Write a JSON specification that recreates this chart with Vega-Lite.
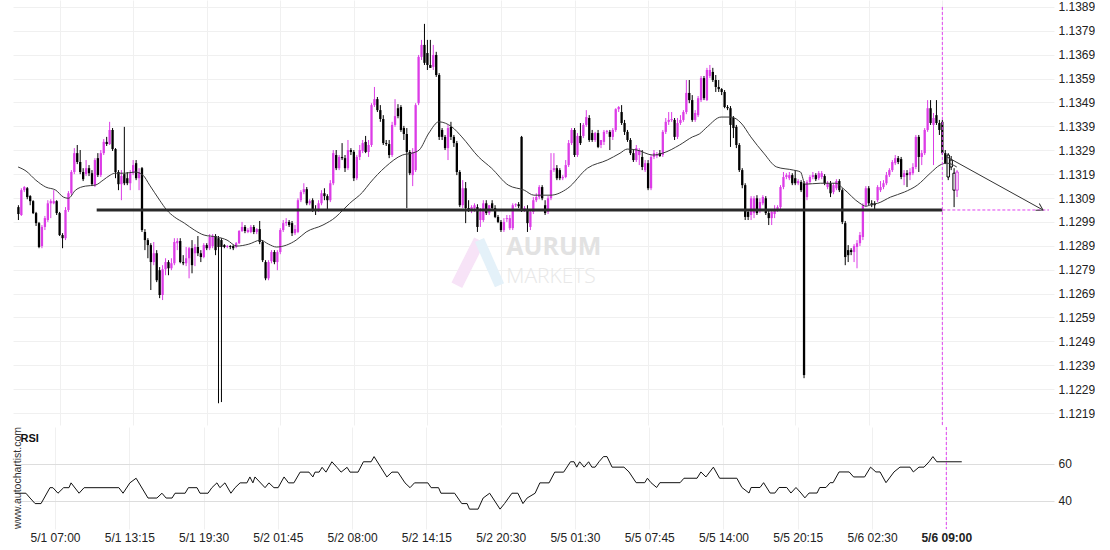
{
  "$schema": "https://vega.github.io/schema/vega-lite/v6.json",
  "background": "#ffffff",
  "padding": {"left": 12, "top": 0, "right": 0, "bottom": 0},
  "spacing": 0,
  "config": {
    "view": {"stroke": null},
    "font": "Liberation Sans",
    "axis": {"labelFont": "Liberation Sans", "labelFontSize": 12, "labelColor": "#222222", "ticks": false, "domain": false, "labelOverlap": false},
    "axisY": {"labelOverlap": false}
  },
  "datasets": {
    "candles": [
      {"i":-14,"o":1.13052,"h":1.1306,"l":1.12998,"c":1.13023},
      {"i":-13,"o":1.13019,"h":1.13131,"l":1.13015,"c":1.13123},
      {"i":-12,"o":1.13123,"h":1.1314,"l":1.13115,"c":1.13136},
      {"i":-11,"o":1.13131,"h":1.13136,"l":1.13085,"c":1.13094},
      {"i":-10,"o":1.13098,"h":1.13102,"l":1.1306,"c":1.13077},
      {"i":-9,"o":1.13077,"h":1.13081,"l":1.13023,"c":1.13027},
      {"i":-8,"o":1.13027,"h":1.13032,"l":1.12973,"c":1.12985},
      {"i":-7,"o":1.12985,"h":1.1299,"l":1.1288,"c":1.12885},
      {"i":-6,"o":1.12889,"h":1.12977,"l":1.1288,"c":1.12969},
      {"i":-5,"o":1.12969,"h":1.13015,"l":1.12956,"c":1.13006},
      {"i":-4,"o":1.12998,"h":1.13081,"l":1.1299,"c":1.13068},
      {"i":-3,"o":1.13068,"h":1.13085,"l":1.13006,"c":1.13077},
      {"i":-2,"o":1.13068,"h":1.13123,"l":1.13064,"c":1.13077},
      {"i":-1,"o":1.13077,"h":1.13081,"l":1.13019,"c":1.13027},
      {"i":0,"o":1.13027,"h":1.13032,"l":1.12931,"c":1.12935},
      {"i":1,"o":1.12935,"h":1.12943,"l":1.1288,"c":1.12922},
      {"i":2,"o":1.12922,"h":1.13052,"l":1.12914,"c":1.1304},
      {"i":3,"o":1.1304,"h":1.13119,"l":1.13032,"c":1.1311},
      {"i":4,"o":1.1311,"h":1.13207,"l":1.13102,"c":1.13199},
      {"i":5,"o":1.13199,"h":1.13299,"l":1.1319,"c":1.13278},
      {"i":6,"o":1.13278,"h":1.13312,"l":1.13232,"c":1.13241},
      {"i":7,"o":1.13241,"h":1.13291,"l":1.1319,"c":1.13199},
      {"i":8,"o":1.13199,"h":1.13215,"l":1.13161,"c":1.13169},
      {"i":9,"o":1.1319,"h":1.13249,"l":1.13182,"c":1.13215},
      {"i":10,"o":1.13215,"h":1.13228,"l":1.13182,"c":1.13194},
      {"i":11,"o":1.13194,"h":1.13207,"l":1.1314,"c":1.13148},
      {"i":12,"o":1.13144,"h":1.13257,"l":1.13136,"c":1.13249},
      {"i":13,"o":1.13257,"h":1.13278,"l":1.13178,"c":1.13186},
      {"i":14,"o":1.13186,"h":1.13291,"l":1.13178,"c":1.13278},
      {"i":15,"o":1.13278,"h":1.13337,"l":1.1327,"c":1.13325},
      {"i":16,"o":1.13325,"h":1.13346,"l":1.13308,"c":1.13316},
      {"i":17,"o":1.13316,"h":1.13409,"l":1.13312,"c":1.13375},
      {"i":18,"o":1.13375,"h":1.13383,"l":1.13287,"c":1.13295},
      {"i":19,"o":1.13295,"h":1.13299,"l":1.13173,"c":1.13199},
      {"i":20,"o":1.13199,"h":1.13207,"l":1.13123,"c":1.13148},
      {"i":21,"o":1.13148,"h":1.13207,"l":1.13081,"c":1.13182},
      {"i":22,"o":1.1319,"h":1.13388,"l":1.13144,"c":1.13152},
      {"i":23,"o":1.13173,"h":1.13199,"l":1.13144,"c":1.13152},
      {"i":24,"o":1.13152,"h":1.13207,"l":1.13123,"c":1.13194},
      {"i":25,"o":1.13194,"h":1.13249,"l":1.13186,"c":1.13228},
      {"i":26,"o":1.13236,"h":1.13249,"l":1.13165,"c":1.13173},
      {"i":27,"o":1.13173,"h":1.13215,"l":1.13123,"c":1.13199},
      {"i":28,"o":1.13215,"h":1.1322,"l":1.12948,"c":1.12956},
      {"i":29,"o":1.12948,"h":1.1296,"l":1.12872,"c":1.12914},
      {"i":30,"o":1.12914,"h":1.12922,"l":1.12838,"c":1.12893},
      {"i":31,"o":1.12893,"h":1.12901,"l":1.12705,"c":1.12822},
      {"i":32,"o":1.12822,"h":1.12906,"l":1.12809,"c":1.12859},
      {"i":33,"o":1.12859,"h":1.12872,"l":1.12738,"c":1.12746},
      {"i":34,"o":1.12788,"h":1.12801,"l":1.12671,"c":1.12684},
      {"i":35,"o":1.12684,"h":1.12809,"l":1.12663,"c":1.12792},
      {"i":36,"o":1.12792,"h":1.12838,"l":1.12767,"c":1.12822},
      {"i":37,"o":1.12822,"h":1.1283,"l":1.12767,"c":1.12796},
      {"i":38,"o":1.12796,"h":1.12838,"l":1.12788,"c":1.12817},
      {"i":39,"o":1.12817,"h":1.12922,"l":1.12809,"c":1.12906},
      {"i":40,"o":1.12901,"h":1.12922,"l":1.12872,"c":1.1291},
      {"i":41,"o":1.1291,"h":1.12922,"l":1.12817,"c":1.12822},
      {"i":42,"o":1.12822,"h":1.12851,"l":1.12809,"c":1.12817},
      {"i":43,"o":1.12817,"h":1.12885,"l":1.12805,"c":1.12838},
      {"i":44,"o":1.12838,"h":1.12885,"l":1.12754,"c":1.1288},
      {"i":45,"o":1.1288,"h":1.12914,"l":1.12775,"c":1.12809},
      {"i":46,"o":1.12859,"h":1.12897,"l":1.12805,"c":1.12885},
      {"i":47,"o":1.12885,"h":1.12931,"l":1.12847,"c":1.12859},
      {"i":48,"o":1.12859,"h":1.12872,"l":1.12822,"c":1.12843},
      {"i":49,"o":1.12843,"h":1.12901,"l":1.12838,"c":1.12893},
      {"i":50,"o":1.12893,"h":1.12901,"l":1.12872,"c":1.1288},
      {"i":51,"o":1.1288,"h":1.12939,"l":1.12872,"c":1.12927},
      {"i":52,"o":1.12889,"h":1.12939,"l":1.1288,"c":1.12931},
      {"i":53,"o":1.12931,"h":1.12939,"l":1.12851,"c":1.12872},
      {"i":54,"o":1.12922,"h":1.12931,"l":1.12231,"c":1.12885},
      {"i":55,"o":1.12914,"h":1.12922,"l":1.12236,"c":1.12885},
      {"i":56,"o":1.12893,"h":1.12897,"l":1.1288,"c":1.12885},
      {"i":57,"o":1.12885,"h":1.12893,"l":1.1288,"c":1.12889},
      {"i":58,"o":1.12889,"h":1.12893,"l":1.12876,"c":1.12885},
      {"i":59,"o":1.12889,"h":1.12893,"l":1.12872,"c":1.1288},
      {"i":60,"o":1.12885,"h":1.12906,"l":1.1288,"c":1.12901},
      {"i":61,"o":1.12901,"h":1.12956,"l":1.12897,"c":1.12952},
      {"i":62,"o":1.12952,"h":1.1299,"l":1.12948,"c":1.12969},
      {"i":63,"o":1.12969,"h":1.12977,"l":1.12943,"c":1.12952},
      {"i":64,"o":1.12948,"h":1.12964,"l":1.12943,"c":1.12956},
      {"i":65,"o":1.12948,"h":1.12977,"l":1.12943,"c":1.12969},
      {"i":66,"o":1.12969,"h":1.12977,"l":1.12939,"c":1.12948},
      {"i":67,"o":1.12948,"h":1.12964,"l":1.12939,"c":1.1296},
      {"i":68,"o":1.1296,"h":1.12994,"l":1.12897,"c":1.12906},
      {"i":69,"o":1.12906,"h":1.12914,"l":1.12822,"c":1.1283},
      {"i":70,"o":1.12822,"h":1.1283,"l":1.12746,"c":1.12754},
      {"i":71,"o":1.12754,"h":1.1283,"l":1.12746,"c":1.12822},
      {"i":72,"o":1.12826,"h":1.12872,"l":1.12817,"c":1.12864},
      {"i":73,"o":1.12864,"h":1.12872,"l":1.12813,"c":1.12822},
      {"i":74,"o":1.12822,"h":1.12872,"l":1.12788,"c":1.12864},
      {"i":75,"o":1.12864,"h":1.12964,"l":1.12855,"c":1.12956},
      {"i":76,"o":1.12956,"h":1.12998,"l":1.12948,"c":1.12985},
      {"i":77,"o":1.12985,"h":1.13006,"l":1.12973,"c":1.1299},
      {"i":78,"o":1.1299,"h":1.12998,"l":1.12969,"c":1.12977},
      {"i":79,"o":1.12985,"h":1.12994,"l":1.12931,"c":1.12943},
      {"i":80,"o":1.12943,"h":1.12977,"l":1.12935,"c":1.1296},
      {"i":81,"o":1.12948,"h":1.13089,"l":1.12943,"c":1.13081},
      {"i":82,"o":1.13081,"h":1.13123,"l":1.13073,"c":1.13115},
      {"i":83,"o":1.13115,"h":1.13152,"l":1.13106,"c":1.13127},
      {"i":84,"o":1.13127,"h":1.13136,"l":1.1306,"c":1.13068},
      {"i":85,"o":1.13068,"h":1.13085,"l":1.1306,"c":1.13077},
      {"i":86,"o":1.13081,"h":1.13089,"l":1.13032,"c":1.1304},
      {"i":87,"o":1.1304,"h":1.1306,"l":1.13019,"c":1.13036},
      {"i":88,"o":1.1304,"h":1.13081,"l":1.13032,"c":1.13068},
      {"i":89,"o":1.13068,"h":1.13123,"l":1.1306,"c":1.1311},
      {"i":90,"o":1.1311,"h":1.13131,"l":1.13081,"c":1.13098},
      {"i":91,"o":1.13098,"h":1.13106,"l":1.1304,"c":1.13081},
      {"i":92,"o":1.13081,"h":1.13165,"l":1.13073,"c":1.13152},
      {"i":93,"o":1.13152,"h":1.13291,"l":1.13144,"c":1.13278},
      {"i":94,"o":1.1327,"h":1.13291,"l":1.13207,"c":1.13215},
      {"i":95,"o":1.13215,"h":1.1327,"l":1.13207,"c":1.13262},
      {"i":96,"o":1.13262,"h":1.1332,"l":1.13249,"c":1.13257},
      {"i":97,"o":1.13257,"h":1.1327,"l":1.13199,"c":1.13215},
      {"i":98,"o":1.13215,"h":1.13333,"l":1.13207,"c":1.13291},
      {"i":99,"o":1.13291,"h":1.13299,"l":1.1327,"c":1.13283},
      {"i":100,"o":1.13283,"h":1.13291,"l":1.13161,"c":1.13173},
      {"i":101,"o":1.13173,"h":1.1327,"l":1.13165,"c":1.13262},
      {"i":102,"o":1.13262,"h":1.13312,"l":1.13249,"c":1.13291},
      {"i":103,"o":1.13287,"h":1.13333,"l":1.13278,"c":1.1332},
      {"i":104,"o":1.13325,"h":1.1335,"l":1.13278,"c":1.13283},
      {"i":105,"o":1.13283,"h":1.13333,"l":1.13262,"c":1.13312},
      {"i":106,"o":1.13312,"h":1.13487,"l":1.13304,"c":1.13479},
      {"i":107,"o":1.13479,"h":1.13555,"l":1.13471,"c":1.13504},
      {"i":108,"o":1.13504,"h":1.13513,"l":1.1345,"c":1.13458},
      {"i":109,"o":1.13458,"h":1.13479,"l":1.13409,"c":1.13421},
      {"i":110,"o":1.13421,"h":1.13437,"l":1.13312,"c":1.1332},
      {"i":111,"o":1.1332,"h":1.13333,"l":1.13308,"c":1.13316},
      {"i":112,"o":1.13316,"h":1.13333,"l":1.13257,"c":1.1327},
      {"i":113,"o":1.1327,"h":1.13409,"l":1.13262,"c":1.13396},
      {"i":114,"o":1.13396,"h":1.13504,"l":1.13388,"c":1.13433},
      {"i":115,"o":1.13466,"h":1.13483,"l":1.13424,"c":1.13433},
      {"i":116,"o":1.13471,"h":1.13479,"l":1.13367,"c":1.13375},
      {"i":117,"o":1.13383,"h":1.13392,"l":1.13333,"c":1.13358},
      {"i":118,"o":1.13358,"h":1.13383,"l":1.13048,"c":1.13283},
      {"i":119,"o":1.13283,"h":1.13291,"l":1.13186,"c":1.13194},
      {"i":120,"o":1.13186,"h":1.13299,"l":1.1314,"c":1.13283},
      {"i":121,"o":1.13207,"h":1.13487,"l":1.13199,"c":1.13479},
      {"i":122,"o":1.13487,"h":1.13689,"l":1.13479,"c":1.13681},
      {"i":123,"o":1.13681,"h":1.13752,"l":1.13668,"c":1.13731},
      {"i":124,"o":1.13731,"h":1.13819,"l":1.13647,"c":1.13656},
      {"i":125,"o":1.13697,"h":1.13752,"l":1.13626,"c":1.13647},
      {"i":126,"o":1.13647,"h":1.13752,"l":1.13635,"c":1.13635},
      {"i":127,"o":1.13639,"h":1.13731,"l":1.13626,"c":1.13689},
      {"i":128,"o":1.13689,"h":1.13702,"l":1.13597,"c":1.13605},
      {"i":129,"o":1.13605,"h":1.13613,"l":1.13333,"c":1.13346},
      {"i":130,"o":1.13375,"h":1.13383,"l":1.13333,"c":1.13346},
      {"i":131,"o":1.13346,"h":1.13354,"l":1.13291,"c":1.13299},
      {"i":132,"o":1.13299,"h":1.13396,"l":1.13249,"c":1.13383},
      {"i":133,"o":1.13388,"h":1.13409,"l":1.13333,"c":1.13346},
      {"i":134,"o":1.13346,"h":1.13354,"l":1.13304,"c":1.1332},
      {"i":135,"o":1.1332,"h":1.13329,"l":1.13186,"c":1.13199},
      {"i":136,"o":1.13199,"h":1.13207,"l":1.13052,"c":1.1306},
      {"i":137,"o":1.1306,"h":1.13165,"l":1.13048,"c":1.13131},
      {"i":138,"o":1.13131,"h":1.13157,"l":1.12985,"c":1.13048},
      {"i":139,"o":1.13048,"h":1.13081,"l":1.13032,"c":1.1304},
      {"i":140,"o":1.1304,"h":1.1306,"l":1.13027,"c":1.13052},
      {"i":141,"o":1.13048,"h":1.13068,"l":1.13032,"c":1.1306},
      {"i":142,"o":1.13052,"h":1.13064,"l":1.12948,"c":1.12969},
      {"i":143,"o":1.12998,"h":1.13048,"l":1.12969,"c":1.13032},
      {"i":144,"o":1.12998,"h":1.13081,"l":1.1299,"c":1.13068},
      {"i":145,"o":1.13068,"h":1.13081,"l":1.13019,"c":1.13027},
      {"i":146,"o":1.13027,"h":1.1306,"l":1.13019,"c":1.1306},
      {"i":147,"o":1.13068,"h":1.13081,"l":1.1304,"c":1.13048},
      {"i":148,"o":1.13048,"h":1.1306,"l":1.13006,"c":1.13011},
      {"i":149,"o":1.13011,"h":1.13019,"l":1.12985,"c":1.1299},
      {"i":150,"o":1.1299,"h":1.12998,"l":1.12948,"c":1.12956},
      {"i":151,"o":1.12956,"h":1.13006,"l":1.12948,"c":1.1299},
      {"i":152,"o":1.13002,"h":1.13019,"l":1.1299,"c":1.13006},
      {"i":153,"o":1.12964,"h":1.13019,"l":1.12956,"c":1.13006},
      {"i":154,"o":1.12964,"h":1.13068,"l":1.12956,"c":1.1306},
      {"i":155,"o":1.1306,"h":1.13068,"l":1.13052,"c":1.13064},
      {"i":156,"o":1.13064,"h":1.13073,"l":1.13048,"c":1.13056},
      {"i":157,"o":1.13346,"h":1.1335,"l":1.13032,"c":1.13044},
      {"i":158,"o":1.1304,"h":1.13056,"l":1.13032,"c":1.13048},
      {"i":159,"o":1.1304,"h":1.1306,"l":1.12948,"c":1.12985},
      {"i":160,"o":1.12969,"h":1.13044,"l":1.12956,"c":1.13032},
      {"i":161,"o":1.13032,"h":1.13094,"l":1.13023,"c":1.13081},
      {"i":162,"o":1.13081,"h":1.1311,"l":1.13073,"c":1.13094},
      {"i":163,"o":1.13094,"h":1.13144,"l":1.13085,"c":1.13136},
      {"i":164,"o":1.13136,"h":1.13144,"l":1.13081,"c":1.13089},
      {"i":165,"o":1.1306,"h":1.13081,"l":1.13019,"c":1.13027},
      {"i":166,"o":1.13032,"h":1.13098,"l":1.13023,"c":1.13089},
      {"i":167,"o":1.13089,"h":1.13278,"l":1.13081,"c":1.13207},
      {"i":168,"o":1.13207,"h":1.13278,"l":1.13199,"c":1.13215},
      {"i":169,"o":1.13215,"h":1.13228,"l":1.13165,"c":1.13173},
      {"i":170,"o":1.13207,"h":1.13215,"l":1.13165,"c":1.13173},
      {"i":171,"o":1.13173,"h":1.13186,"l":1.13165,"c":1.13178},
      {"i":172,"o":1.13178,"h":1.13249,"l":1.13173,"c":1.13228},
      {"i":173,"o":1.13228,"h":1.13333,"l":1.1322,"c":1.1332},
      {"i":174,"o":1.1332,"h":1.13383,"l":1.13312,"c":1.13375},
      {"i":175,"o":1.13375,"h":1.13383,"l":1.13262,"c":1.1327},
      {"i":176,"o":1.1327,"h":1.13362,"l":1.13262,"c":1.1335},
      {"i":177,"o":1.1335,"h":1.13404,"l":1.13312,"c":1.1332},
      {"i":178,"o":1.1335,"h":1.13404,"l":1.13341,"c":1.13396},
      {"i":179,"o":1.13396,"h":1.13458,"l":1.13388,"c":1.13429},
      {"i":180,"o":1.13425,"h":1.13437,"l":1.13325,"c":1.13333},
      {"i":181,"o":1.13362,"h":1.13375,"l":1.13325,"c":1.13333},
      {"i":182,"o":1.13333,"h":1.13367,"l":1.13325,"c":1.13362},
      {"i":183,"o":1.13362,"h":1.13375,"l":1.13299,"c":1.13304},
      {"i":184,"o":1.13312,"h":1.13333,"l":1.13299,"c":1.13333},
      {"i":185,"o":1.13325,"h":1.13375,"l":1.13312,"c":1.13367},
      {"i":186,"o":1.13367,"h":1.13375,"l":1.13358,"c":1.13371},
      {"i":187,"o":1.13367,"h":1.13375,"l":1.13291,"c":1.13346},
      {"i":188,"o":1.13346,"h":1.13383,"l":1.13333,"c":1.13375},
      {"i":189,"o":1.13375,"h":1.13466,"l":1.13367,"c":1.13462},
      {"i":190,"o":1.13462,"h":1.13475,"l":1.1345,"c":1.13471},
      {"i":191,"o":1.1345,"h":1.13479,"l":1.13396,"c":1.13404},
      {"i":192,"o":1.13404,"h":1.13417,"l":1.13354,"c":1.13367},
      {"i":193,"o":1.13367,"h":1.13375,"l":1.13325,"c":1.13333},
      {"i":194,"o":1.13333,"h":1.13341,"l":1.1327,"c":1.13278},
      {"i":195,"o":1.13278,"h":1.13291,"l":1.13241,"c":1.13249},
      {"i":196,"o":1.13249,"h":1.13312,"l":1.13241,"c":1.13299},
      {"i":197,"o":1.1327,"h":1.13299,"l":1.13228,"c":1.13291},
      {"i":198,"o":1.13262,"h":1.13291,"l":1.13207,"c":1.1322},
      {"i":199,"o":1.13207,"h":1.13249,"l":1.13199,"c":1.13236},
      {"i":200,"o":1.13236,"h":1.13249,"l":1.13123,"c":1.13131},
      {"i":201,"o":1.13131,"h":1.1327,"l":1.13123,"c":1.13262},
      {"i":202,"o":1.13262,"h":1.13291,"l":1.13253,"c":1.13278},
      {"i":203,"o":1.13266,"h":1.13283,"l":1.13257,"c":1.13274},
      {"i":204,"o":1.13278,"h":1.13291,"l":1.13262,"c":1.13266},
      {"i":205,"o":1.1327,"h":1.13375,"l":1.13262,"c":1.13367},
      {"i":206,"o":1.13367,"h":1.13425,"l":1.13358,"c":1.13409},
      {"i":207,"o":1.13409,"h":1.1345,"l":1.13396,"c":1.13417},
      {"i":208,"o":1.13417,"h":1.1345,"l":1.13409,"c":1.13421},
      {"i":209,"o":1.13417,"h":1.13425,"l":1.13333,"c":1.13346},
      {"i":210,"o":1.13346,"h":1.13425,"l":1.13337,"c":1.13404},
      {"i":211,"o":1.13404,"h":1.13437,"l":1.13396,"c":1.13417},
      {"i":212,"o":1.13417,"h":1.13458,"l":1.13409,"c":1.1345},
      {"i":213,"o":1.1345,"h":1.13584,"l":1.13441,"c":1.1353},
      {"i":214,"o":1.1353,"h":1.13584,"l":1.13487,"c":1.135},
      {"i":215,"o":1.135,"h":1.13521,"l":1.13409,"c":1.13417},
      {"i":216,"o":1.13417,"h":1.13458,"l":1.13409,"c":1.13446},
      {"i":217,"o":1.13437,"h":1.13517,"l":1.13429,"c":1.13508},
      {"i":218,"o":1.135,"h":1.13601,"l":1.13492,"c":1.13592},
      {"i":219,"o":1.13592,"h":1.13601,"l":1.135,"c":1.13508},
      {"i":220,"o":1.135,"h":1.13635,"l":1.13496,"c":1.13626},
      {"i":221,"o":1.13601,"h":1.13647,"l":1.13592,"c":1.13626},
      {"i":222,"o":1.13618,"h":1.13635,"l":1.13576,"c":1.13584},
      {"i":223,"o":1.13584,"h":1.13605,"l":1.13534,"c":1.13555},
      {"i":224,"o":1.13555,"h":1.13584,"l":1.13534,"c":1.13546},
      {"i":225,"o":1.13546,"h":1.1355,"l":1.13521,"c":1.13534},
      {"i":226,"o":1.13534,"h":1.13542,"l":1.13466,"c":1.13471},
      {"i":227,"o":1.13471,"h":1.13479,"l":1.13458,"c":1.13466},
      {"i":228,"o":1.13466,"h":1.13475,"l":1.13304,"c":1.13396},
      {"i":229,"o":1.13425,"h":1.13433,"l":1.13341,"c":1.13383},
      {"i":230,"o":1.13388,"h":1.13396,"l":1.13299,"c":1.13312},
      {"i":231,"o":1.13312,"h":1.1332,"l":1.13199,"c":1.13207},
      {"i":232,"o":1.13207,"h":1.13215,"l":1.13131,"c":1.13144},
      {"i":233,"o":1.13144,"h":1.13152,"l":1.12998,"c":1.13011},
      {"i":234,"o":1.13032,"h":1.1304,"l":1.12998,"c":1.13011},
      {"i":235,"o":1.13019,"h":1.13098,"l":1.12998,"c":1.13089},
      {"i":236,"o":1.13027,"h":1.13098,"l":1.13006,"c":1.13089},
      {"i":237,"o":1.13089,"h":1.13102,"l":1.13019,"c":1.13027},
      {"i":238,"o":1.1304,"h":1.13089,"l":1.13027,"c":1.13073},
      {"i":239,"o":1.13068,"h":1.13102,"l":1.1306,"c":1.13094},
      {"i":240,"o":1.13089,"h":1.13098,"l":1.13019,"c":1.13027},
      {"i":241,"o":1.13027,"h":1.13036,"l":1.12977,"c":1.13006},
      {"i":242,"o":1.13006,"h":1.1304,"l":1.12977,"c":1.13032},
      {"i":243,"o":1.13023,"h":1.1306,"l":1.13006,"c":1.1304},
      {"i":244,"o":1.1304,"h":1.1306,"l":1.13032,"c":1.13052},
      {"i":245,"o":1.13052,"h":1.13144,"l":1.13044,"c":1.13136},
      {"i":246,"o":1.13136,"h":1.13199,"l":1.13127,"c":1.13178},
      {"i":247,"o":1.13178,"h":1.13194,"l":1.13169,"c":1.13186},
      {"i":248,"o":1.13173,"h":1.13199,"l":1.13165,"c":1.13186},
      {"i":249,"o":1.13186,"h":1.13194,"l":1.13144,"c":1.13152},
      {"i":250,"o":1.13173,"h":1.13207,"l":1.13144,"c":1.13152},
      {"i":251,"o":1.13152,"h":1.13169,"l":1.13144,"c":1.13161},
      {"i":252,"o":1.13157,"h":1.13165,"l":1.13115,"c":1.13123},
      {"i":253,"o":1.13152,"h":1.13161,"l":1.12336,"c":1.12349},
      {"i":254,"o":1.13094,"h":1.13165,"l":1.13081,"c":1.13157},
      {"i":255,"o":1.13157,"h":1.13186,"l":1.13148,"c":1.13178},
      {"i":256,"o":1.13178,"h":1.13199,"l":1.13169,"c":1.13186},
      {"i":257,"o":1.13186,"h":1.13194,"l":1.13161,"c":1.13169},
      {"i":258,"o":1.13173,"h":1.13203,"l":1.13165,"c":1.13194},
      {"i":259,"o":1.13178,"h":1.13203,"l":1.13169,"c":1.13194},
      {"i":260,"o":1.13182,"h":1.1319,"l":1.13144,"c":1.13152},
      {"i":261,"o":1.13136,"h":1.13161,"l":1.13127,"c":1.13152},
      {"i":262,"o":1.13152,"h":1.13161,"l":1.13094,"c":1.1311},
      {"i":263,"o":1.13115,"h":1.13152,"l":1.13106,"c":1.13144},
      {"i":264,"o":1.13131,"h":1.13169,"l":1.13123,"c":1.13161},
      {"i":265,"o":1.13161,"h":1.13169,"l":1.13115,"c":1.13123},
      {"i":266,"o":1.13123,"h":1.13131,"l":1.12981,"c":1.1299},
      {"i":267,"o":1.12985,"h":1.12994,"l":1.12809,"c":1.12843},
      {"i":268,"o":1.12872,"h":1.12893,"l":1.12822,"c":1.12851},
      {"i":269,"o":1.12872,"h":1.1288,"l":1.12851,"c":1.12864},
      {"i":270,"o":1.12864,"h":1.12897,"l":1.12822,"c":1.12889},
      {"i":271,"o":1.12885,"h":1.12914,"l":1.12796,"c":1.12901},
      {"i":272,"o":1.12901,"h":1.12948,"l":1.12889,"c":1.12935},
      {"i":273,"o":1.12927,"h":1.13068,"l":1.12914,"c":1.1306},
      {"i":274,"o":1.1306,"h":1.1314,"l":1.13052,"c":1.13131},
      {"i":275,"o":1.13131,"h":1.1314,"l":1.1306,"c":1.13068},
      {"i":276,"o":1.13068,"h":1.13081,"l":1.13052,"c":1.1306},
      {"i":277,"o":1.13068,"h":1.13077,"l":1.13036,"c":1.1306},
      {"i":278,"o":1.13081,"h":1.13144,"l":1.13073,"c":1.13136},
      {"i":279,"o":1.13123,"h":1.13161,"l":1.13115,"c":1.13136},
      {"i":280,"o":1.13136,"h":1.13165,"l":1.13127,"c":1.13152},
      {"i":281,"o":1.13152,"h":1.13199,"l":1.13144,"c":1.13186},
      {"i":282,"o":1.13186,"h":1.13215,"l":1.13178,"c":1.13207},
      {"i":283,"o":1.13207,"h":1.13249,"l":1.13199,"c":1.13241},
      {"i":284,"o":1.13236,"h":1.1327,"l":1.13228,"c":1.13257},
      {"i":285,"o":1.13257,"h":1.13266,"l":1.13232,"c":1.13241},
      {"i":286,"o":1.13253,"h":1.13262,"l":1.13169,"c":1.13178},
      {"i":287,"o":1.13178,"h":1.13207,"l":1.13144,"c":1.13194},
      {"i":288,"o":1.13194,"h":1.13207,"l":1.13136,"c":1.13186},
      {"i":289,"o":1.13186,"h":1.13215,"l":1.13165,"c":1.13199},
      {"i":290,"o":1.13194,"h":1.13236,"l":1.13186,"c":1.1322},
      {"i":291,"o":1.1322,"h":1.13354,"l":1.13211,"c":1.13346},
      {"i":292,"o":1.13346,"h":1.13354,"l":1.13199,"c":1.13262},
      {"i":293,"o":1.13262,"h":1.13291,"l":1.13228,"c":1.13278},
      {"i":294,"o":1.13278,"h":1.13383,"l":1.1327,"c":1.13375},
      {"i":295,"o":1.13375,"h":1.135,"l":1.13367,"c":1.13466},
      {"i":296,"o":1.13466,"h":1.135,"l":1.13396,"c":1.13404},
      {"i":297,"o":1.13396,"h":1.13446,"l":1.13228,"c":1.13425},
      {"i":298,"o":1.13437,"h":1.135,"l":1.13396,"c":1.13404},
      {"i":299,"o":1.13404,"h":1.13417,"l":1.13354,"c":1.13375},
      {"i":300,"o":1.13409,"h":1.13417,"l":1.1327,"c":1.13278},
      {"i":301,"o":1.13278,"h":1.13291,"l":1.13232,"c":1.13236},
      {"i":302,"o":1.1327,"h":1.13278,"l":1.13165,"c":1.13178},
      {"i":303,"o":1.13249,"h":1.13266,"l":1.13207,"c":1.1322},
      {"i":304,"o":1.13194,"h":1.13215,"l":1.13052,"c":1.13123},
      {"i":305,"o":1.13123,"h":1.13207,"l":1.13094,"c":1.13199}
    ],
    "ma": [
      {"i":-14.1,"v":1.1322},{"i":-11.4,"v":1.13203},{"i":-8.1,"v":1.13165},{"i":-4.7,"v":1.13136},{"i":-1.3,"v":1.13123},{"i":1.3,"v":1.13094},{"i":3.0,"v":1.13089},{"i":5.4,"v":1.13123},{"i":8.8,"v":1.1314},{"i":12.1,"v":1.13144},{"i":14.8,"v":1.13165},{"i":17.2,"v":1.13186},{"i":18.8,"v":1.13194},{"i":22.2,"v":1.13194},{"i":25.6,"v":1.13199},{"i":28.3,"v":1.13186},{"i":30.6,"v":1.13144},{"i":34.0,"v":1.13081},{"i":36.4,"v":1.1304},{"i":39.0,"v":1.13011},{"i":42.4,"v":1.12985},{"i":45.8,"v":1.12956},{"i":49.1,"v":1.12935},{"i":53.5,"v":1.12927},{"i":56.9,"v":1.12914},{"i":60.2,"v":1.12889},{"i":64.3,"v":1.12897},{"i":68.3,"v":1.12914},{"i":71.0,"v":1.12897},{"i":73.7,"v":1.12885},{"i":77.1,"v":1.12893},{"i":80.4,"v":1.12914},{"i":83.8,"v":1.12948},{"i":89.5,"v":1.12977},{"i":93.9,"v":1.13011},{"i":96.3,"v":1.1304},{"i":98.6,"v":1.13068},{"i":103.0,"v":1.13115},{"i":105.4,"v":1.13152},{"i":110.7,"v":1.1322},{"i":116.5,"v":1.1327},{"i":119.8,"v":1.13278},{"i":122.2,"v":1.13291},{"i":125.5,"v":1.13362},{"i":128.9,"v":1.13409},{"i":133.3,"v":1.13388},{"i":136.7,"v":1.13346},{"i":142.4,"v":1.13262},{"i":146.8,"v":1.13215},{"i":152.5,"v":1.13144},{"i":157.9,"v":1.13123},{"i":161.2,"v":1.13102},{"i":166.9,"v":1.13102},{"i":172.7,"v":1.13131},{"i":179.4,"v":1.13215},{"i":186.1,"v":1.13249},{"i":190.5,"v":1.13278},{"i":192.9,"v":1.13295},{"i":196.2,"v":1.13291},{"i":201.6,"v":1.1327},{"i":205.0,"v":1.13278},{"i":210.7,"v":1.13312},{"i":215.1,"v":1.13346},{"i":217.4,"v":1.13358},{"i":220.1,"v":1.13388},{"i":224.8,"v":1.13429},{"i":228.2,"v":1.13429},{"i":231.6,"v":1.13404},{"i":234.9,"v":1.13346},{"i":239.3,"v":1.13278},{"i":243.7,"v":1.1322},{"i":249.4,"v":1.13207},{"i":251.8,"v":1.13199},{"i":253.4,"v":1.13148},{"i":258.5,"v":1.13152},{"i":263.9,"v":1.13152},{"i":266.2,"v":1.13131},{"i":272.0,"v":1.13068},{"i":274.0,"v":1.13056},{"i":276.3,"v":1.13064},{"i":278.0,"v":1.13068},{"i":282.4,"v":1.13094},{"i":287.1,"v":1.13115},{"i":291.5,"v":1.13144},{"i":295.9,"v":1.13194},{"i":299.2,"v":1.13228},{"i":301.6,"v":1.13236},{"i":304.9,"v":1.1322}
    ],
    "rsi": [
      {"i":-13.5,"v":44.2},{"i":-9.8,"v":44.2},{"i":-8.4,"v":41.6},{"i":-6.7,"v":38.6},{"i":-4.7,"v":38.6},{"i":-1.7,"v":47.2},{"i":-0.7,"v":47.2},{"i":1.0,"v":44.2},{"i":2.9,"v":47.2},{"i":4.7,"v":47.2},{"i":5.4,"v":49.8},{"i":8.1,"v":44.2},{"i":9.8,"v":47.2},{"i":21.5,"v":47.2},{"i":22.9,"v":44.2},{"i":25.2,"v":49.8},{"i":27.3,"v":52.3},{"i":31.3,"v":41.6},{"i":34.3,"v":41.6},{"i":36.0,"v":44.2},{"i":37.4,"v":41.6},{"i":39.4,"v":41.6},{"i":40.4,"v":44.2},{"i":43.8,"v":44.2},{"i":44.9,"v":47.2},{"i":47.8,"v":47.2},{"i":48.8,"v":44.2},{"i":51.5,"v":44.2},{"i":52.8,"v":47.2},{"i":54.5,"v":49.8},{"i":55.5,"v":47.2},{"i":57.2,"v":49.8},{"i":59.2,"v":44.2},{"i":60.6,"v":47.2},{"i":62.3,"v":49.8},{"i":64.6,"v":49.8},{"i":65.6,"v":53},{"i":66.6,"v":49.8},{"i":67.3,"v":53},{"i":70.7,"v":47.2},{"i":72.0,"v":49.8},{"i":73.7,"v":47.2},{"i":75.1,"v":47.2},{"i":77.1,"v":53},{"i":78.6,"v":49.8},{"i":80.4,"v":49.8},{"i":82.5,"v":55.6},{"i":85.5,"v":55.6},{"i":86.8,"v":53},{"i":87.5,"v":55.6},{"i":88.9,"v":55.6},{"i":89.9,"v":58.2},{"i":91.2,"v":55.6},{"i":93.2,"v":61.2},{"i":94.9,"v":58.2},{"i":96.3,"v":55.6},{"i":98.3,"v":58.2},{"i":99.3,"v":55.6},{"i":102.0,"v":55.6},{"i":103.8,"v":61.2},{"i":106.4,"v":61.2},{"i":107.4,"v":64},{"i":111.7,"v":53},{"i":113.4,"v":55.6},{"i":115.4,"v":55.6},{"i":117.8,"v":49.8},{"i":119.5,"v":47.2},{"i":121.0,"v":49.8},{"i":125.5,"v":49.8},{"i":126.6,"v":47.2},{"i":129.1,"v":47.2},{"i":129.9,"v":44.2},{"i":134.5,"v":44.2},{"i":136.9,"v":38.6},{"i":138.7,"v":38.6},{"i":139.5,"v":35.6},{"i":142.4,"v":35.6},{"i":144.1,"v":41.6},{"i":146.3,"v":44.2},{"i":149.8,"v":35.6},{"i":151.3,"v":38.6},{"i":153.8,"v":44.2},{"i":155.8,"v":44.2},{"i":157.5,"v":38.6},{"i":158.9,"v":41.6},{"i":161.6,"v":44.2},{"i":163.2,"v":49.8},{"i":166.3,"v":49.8},{"i":168.2,"v":55.6},{"i":171.2,"v":55.6},{"i":173.5,"v":61.2},{"i":174.7,"v":61.2},{"i":175.6,"v":58.3},{"i":176.6,"v":61.2},{"i":178.1,"v":58.3},{"i":179.6,"v":61.2},{"i":180.7,"v":58.3},{"i":181.8,"v":58.3},{"i":183.1,"v":61.2},{"i":184.6,"v":64},{"i":185.8,"v":64},{"i":187.5,"v":58.3},{"i":191.5,"v":58.3},{"i":193.2,"v":55.7},{"i":195.6,"v":49.9},{"i":198.5,"v":49.9},{"i":199.4,"v":52.3},{"i":200.6,"v":49.9},{"i":202.5,"v":47.3},{"i":203.6,"v":49.9},{"i":210.4,"v":49.9},{"i":211.7,"v":52.3},{"i":216.1,"v":52.3},{"i":217.4,"v":55.7},{"i":219.1,"v":53},{"i":221.6,"v":58.3},{"i":223.7,"v":52.3},{"i":229.5,"v":52.3},{"i":231.2,"v":47.3},{"i":233.6,"v":44.3},{"i":234.3,"v":47.3},{"i":237.3,"v":47.3},{"i":238.5,"v":49.9},{"i":240.7,"v":44.3},{"i":242.3,"v":44.3},{"i":243.7,"v":47.3},{"i":246.3,"v":47.3},{"i":247.7,"v":44.3},{"i":249.4,"v":47.3},{"i":251.1,"v":44.3},{"i":252.4,"v":41.7},{"i":253.8,"v":44.3},{"i":256.5,"v":44.3},{"i":257.4,"v":47.3},{"i":259.5,"v":47.3},{"i":260.9,"v":49.9},{"i":261.9,"v":49.9},{"i":263.9,"v":55.7},{"i":267.3,"v":55.7},{"i":268.8,"v":53},{"i":272.5,"v":53},{"i":274.5,"v":58.3},{"i":276.3,"v":55.7},{"i":277.7,"v":55.7},{"i":279.7,"v":49.9},{"i":282.4,"v":55.7},{"i":284.4,"v":58.3},{"i":287.8,"v":58.3},{"i":288.9,"v":55.7},{"i":290.8,"v":58.3},{"i":292.5,"v":58.3},{"i":294.2,"v":61.2},{"i":295.5,"v":64},{"i":296.8,"v":61.2},{"i":305.2,"v":61.2}
    ]
  },
  "vconcat": [
    {
      "width": 1041,
      "height": 425,
      "encoding": {
        "x": {"type": "quantitative", "title": null, "scale": {"domain": [-14.14, 336.25], "nice": false, "zero": false},
              "axis": {"values": [0,25,50,75,100,125,150,175,200,225,250,275,300], "labels": false, "ticks": false, "domain": false, "grid": true, "gridColor": "#f0f0f0", "title": null, "minExtent": 0, "maxExtent": 0}},
        "y": {"type": "quantitative", "title": null, "scale": {"domain": [1.1214, 1.13919], "nice": false, "zero": false},
              "axis": {"orient": "right", "values": [1.1389,1.1379,1.1369,1.1359,1.1349,1.1339,1.1329,1.1319,1.1309,1.1299,1.1289,1.1279,1.1269,1.1259,1.1249,1.1239,1.1229,1.1219], "format": ".4f", "labelOverlap": false, "labelSeparation": 0, "ticks": false, "domain": false, "grid": true, "gridColor": "#f0f0f0", "labelPadding": 4, "title": null}}
      },
      "layer": [
        {
          "data": {"values": [{"a": 135.0, "p": 1.12725}, {"a": 142.7, "p": 1.12914}]},
          "mark": {"type": "line", "color": "#f7e3f7", "strokeWidth": 12, "strokeCap": "butt"},
          "encoding": {"x": {"field": "a"}, "y": {"field": "p"}}
        },
        {
          "data": {"values": [{"a": 142.7, "p": 1.12914}, {"a": 149.5, "p": 1.12725}]},
          "mark": {"type": "line", "color": "#e4f1f9", "strokeWidth": 10, "strokeCap": "butt"},
          "encoding": {"x": {"field": "a"}, "y": {"field": "p"}}
        },
        {
          "data": {"values": [{"a": 151.8, "p": 1.12885, "t": "AURUM"}]},
          "mark": {"type": "text", "font": "Open Sans", "fontWeight": "bold", "fontSize": 25, "color": "#e2e2e2", "align": "left", "baseline": "middle"},
          "encoding": {"x": {"field": "a"}, "y": {"field": "p"}, "text": {"field": "t"}}
        },
        {
          "data": {"values": [{"a": 151.8, "p": 1.12759, "t": "MARKETS"}]},
          "mark": {"type": "text", "font": "Open Sans", "fontWeight": 300, "fontSize": 21, "color": "#e8e8e8", "align": "left", "baseline": "middle"},
          "encoding": {"x": {"field": "a"}, "y": {"field": "p"}, "text": {"field": "t"}}
        },
        {
          "data": {"name": "candles"},
          "mark": {"type": "rule", "strokeWidth": 1},
          "encoding": {
            "x": {"field": "i"},
            "y": {"field": "l"},
            "y2": {"field": "h"},
            "color": {"condition": {"test": "datum.c >= datum.o", "value": "#dc3ce6"}, "value": "#000000"}
          }
        },
        {
          "data": {"name": "candles"},
          "transform": [{"filter": "datum.i <= 301"}],
          "mark": {"type": "rule", "strokeWidth": 2.3, "strokeCap": "butt"},
          "encoding": {
            "x": {"field": "i"},
            "y": {"field": "o"},
            "y2": {"field": "c"},
            "color": {"condition": {"test": "datum.c >= datum.o", "value": "#dc3ce6"}, "value": "#000000"}
          }
        },
        {
          "data": {"name": "candles"},
          "transform": [{"filter": "datum.i > 301"}],
          "mark": {"type": "bar", "width": 2.4, "fill": "#ffffff", "strokeWidth": 1},
          "encoding": {
            "x": {"field": "i"},
            "y": {"field": "o"},
            "y2": {"field": "c"},
            "stroke": {"condition": {"test": "datum.c >= datum.o", "value": "#dc3ce6"}, "value": "#000000"}
          }
        },
        {
          "data": {"name": "ma"},
          "mark": {"type": "line", "color": "#3a3a3a", "strokeWidth": 1, "interpolate": "monotone"},
          "encoding": {"x": {"field": "i"}, "y": {"field": "v"}}
        },
        {
          "data": {"values": [{"a": 12.6, "b": 300, "p": 1.1304}]},
          "mark": {"type": "rule", "color": "#2a2a2a", "strokeWidth": 3},
          "encoding": {"x": {"field": "a"}, "x2": {"field": "b"}, "y": {"field": "p"}}
        },
        {
          "data": {"values": [{"a": 300, "b": 336.25, "p": 1.1304}]},
          "mark": {"type": "rule", "color": "#e040f0", "strokeWidth": 1, "strokeDash": [3, 2]},
          "encoding": {"x": {"field": "a"}, "x2": {"field": "b"}, "y": {"field": "p"}}
        },
        {
          "data": {"values": [{"a": 300, "p1": 1.1389, "p2": 1.1214}]},
          "mark": {"type": "rule", "color": "#e040f0", "strokeWidth": 1, "strokeDash": [3, 2]},
          "encoding": {"x": {"field": "a"}, "y": {"field": "p1"}, "y2": {"field": "p2"}}
        },
        {
          "data": {"values": [{"a": 301.6, "p1": 1.13262, "b": 334.2, "p2": 1.1304}]},
          "mark": {"type": "rule", "color": "#333333", "strokeWidth": 1},
          "encoding": {"x": {"field": "a"}, "y": {"field": "p1"}, "x2": {"field": "b"}, "y2": {"field": "p2"}}
        },
        {
          "data": {"values": [{"a": 334.2, "p": 1.1304}]},
          "mark": {"type": "point", "shape": "M-1,-0.6L0,0L-1,0.6", "filled": false, "stroke": "#333333", "strokeWidth": 1, "size": 160, "angle": 29, "opacity": 1},
          "encoding": {"x": {"field": "a"}, "y": {"field": "p"}}
        }
      ]
    },
    {
      "width": 1041,
      "height": 102,
      "encoding": {
        "x": {"type": "quantitative", "title": null, "scale": {"domain": [-14.14, 336.25], "nice": false, "zero": false},
              "axis": {"values": [0,25,50,75,100,125,150,175,200,225,250,275,300], "labelExpr": "datum.value < 170 ? timeFormat(time(datetime(2025,4,1,7,0)) + datum.value*900000, '%-m/%-d %H:%M') : timeFormat(time(datetime(2025,4,5,1,30)) + (datum.value - 175 + (datum.value > 280 ? 1 : 0))*900000, '%-m/%-d %H:%M')", "labelFontWeight": {"condition": {"test": "datum.value == 300", "value": "bold"}, "value": "normal"}, "labelOverlap": false, "labelFlush": false, "labelPadding": 3, "ticks": false, "domain": false, "grid": true, "gridColor": "#f0f0f0", "title": null}},
        "y": {"type": "quantitative", "title": null, "scale": {"domain": [24.86, 80], "nice": false, "zero": false},
              "axis": {"orient": "right", "values": [40, 60], "labelOverlap": false, "ticks": false, "domain": false, "grid": true, "gridColor": "#dddddd", "labelPadding": 4, "title": null}}
      },
      "layer": [
        {
          "data": {"name": "rsi"},
          "mark": {"type": "line", "color": "#111111", "strokeWidth": 1},
          "encoding": {"x": {"field": "i"}, "y": {"field": "v"}}
        },
        {
          "data": {"values": [{"a": 300, "v1": 80, "v2": 24.86}]},
          "mark": {"type": "rule", "color": "#e040f0", "strokeWidth": 1, "strokeDash": [3, 2]},
          "encoding": {"x": {"field": "a"}, "y": {"field": "v1"}, "y2": {"field": "v2"}}
        },
        {
          "data": {"values": [{"a": -11.6, "v": 73.5, "t": "RSI"}]},
          "mark": {"type": "text", "font": "Liberation Sans", "fontWeight": "bold", "fontSize": 11, "color": "#111111", "align": "left", "baseline": "middle"},
          "encoding": {"x": {"field": "a"}, "y": {"field": "v"}, "text": {"field": "t"}}
        },
        {
          "data": {"values": [{"a": -12.45, "v": 52.4, "t": "www.autochartist.com"}]},
          "mark": {"type": "text", "font": "Liberation Sans", "fontSize": 10.5, "color": "#333333", "align": "center", "baseline": "middle", "angle": 270},
          "encoding": {"x": {"field": "a"}, "y": {"field": "v"}, "text": {"field": "t"}}
        }
      ]
    }
  ]
}
